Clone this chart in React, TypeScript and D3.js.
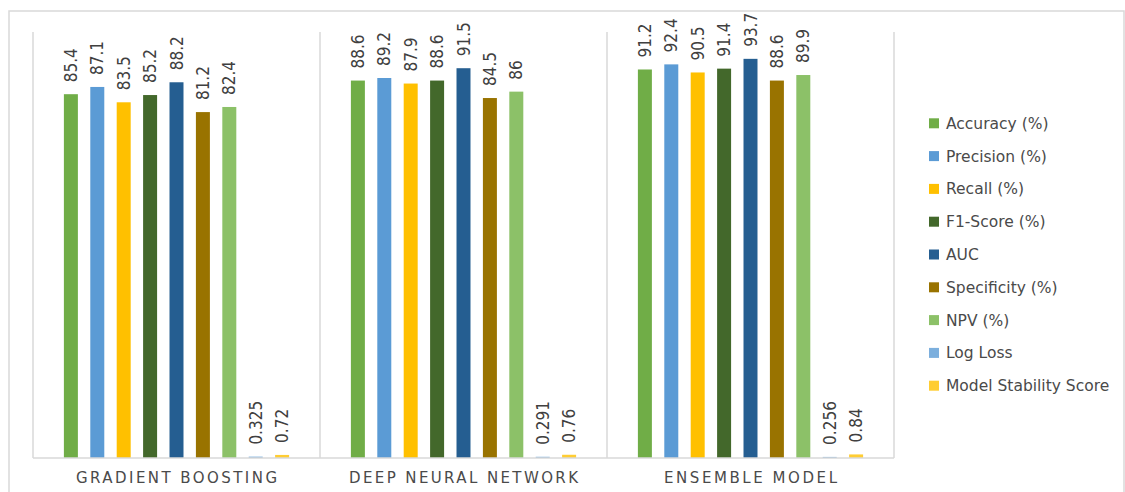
import React from "react";
import * as d3 from "d3";

const categories = ["GRADIENT BOOSTING", "DEEP NEURAL NETWORK", "ENSEMBLE MODEL"];
const seriesNames = [
  "Accuracy (%)",
  "Precision (%)",
  "Recall (%)",
  "F1-Score (%)",
  "AUC",
  "Specificity (%)",
  "NPV (%)",
  "Log Loss",
  "Model Stability Score",
];
const seriesColors = [
  "#70ad47",
  "#5b9bd5",
  "#ffc000",
  "#43682b",
  "#255e91",
  "#997300",
  "#8cc168",
  "#7cafdd",
  "#ffcd33",
];
const gradientBoosting = [85.4, 87.1, 83.5, 85.2, 88.2, 81.2, 82.4, 0.325, 0.72];
const deepNeuralNetwork = [88.6, 89.2, 87.9, 88.6, 91.5, 84.5, 86, 0.291, 0.76];
const ensembleModel = [91.2, 92.4, 90.5, 91.4, 93.7, 88.6, 89.9, 0.256, 0.84];
const values = [gradientBoosting, deepNeuralNetwork, ensembleModel];
const catLabelLengths = [201, 229, 173];

export default function App() {
  const W = 1125;
  const H = 492;
  const plotLeft = 33;
  const plotRight = 894;
  const plotTop = 32;
  const baseline = 458;

  const x0 = d3.scaleBand<string>().domain(categories).range([plotLeft, plotRight]).padding(0);
  const x1 = d3
    .scaleBand<string>()
    .domain(seriesNames)
    .range([0, x0.bandwidth()])
    .paddingInner(0.47)
    .paddingOuter(1.17);
  const y = d3.scaleLinear().domain([0, 100]).range([baseline, plotTop]);

  const fmt = (v: number) => String(v);
  const gridXs = [...categories.map((c) => x0(c) as number), plotRight];

  return (
    <svg
      width={W}
      height={H}
      style={{ position: "fixed", left: 0, top: 0, background: "#fff" }}
    >
      <rect x={0} y={0} width={W} height={H} fill="#fff" />
      <rect x={9} y={11} width={1115} height={520} fill="none" stroke="#d9d9d9" strokeWidth={1.5} />
      {gridXs.map((gx, i) => (
        <line key={i} x1={gx} x2={gx} y1={plotTop} y2={baseline} stroke="#d9d9d9" strokeWidth={1.5} />
      ))}
      {categories.map((c, ci) => (
        <g key={c} transform={`translate(${x0(c)},0)`}>
          {seriesNames.map((s, si) => {
            const v = values[ci][si];
            const bx = x1(s) as number;
            const bw = x1.bandwidth();
            const top = y(v);
            const cx = bx + bw / 2;
            return (
              <g key={s}>
                <rect x={bx} y={top} width={bw} height={baseline - top} fill={seriesColors[si]} />
                <text
                  transform={`translate(${cx},${top - 12}) rotate(-90)`}
                  dy="0.36em"
                  fontFamily="'Liberation Sans Narrow', 'DejaVu Sans Condensed', sans-serif"
                  fontSize={17}
                  fill="#404040"
                  textAnchor="start"
                >
                  {fmt(v)}
                </text>
              </g>
            );
          })}
        </g>
      ))}
      <line x1={plotLeft} x2={plotRight} y1={baseline} y2={baseline} stroke="#d9d9d9" strokeWidth={1.5} />
      {categories.map((c, ci) => (
        <text
          key={c}
          x={(x0(c) as number) + x0.bandwidth() / 2}
          y={483}
          textAnchor="middle"
          fontFamily="'DejaVu Sans', sans-serif"
          fontSize={15}
          fill="#4a4a4a"
          textLength={catLabelLengths[ci]}
          lengthAdjust="spacing"
        >
          {c}
        </text>
      ))}
      {seriesNames.map((s, si) => {
        const ly = 123.3 + si * 32.8;
        return (
          <g key={s}>
            <rect x={929} y={ly - 5} width={10} height={10} fill={seriesColors[si]} />
            <text
              x={946}
              y={ly}
              dy="0.36em"
              fontFamily="'DejaVu Sans', sans-serif"
              fontSize={15.5}
              fill="#4a4a4a"
            >
              {s}
            </text>
          </g>
        );
      })}
    </svg>
  );
}
